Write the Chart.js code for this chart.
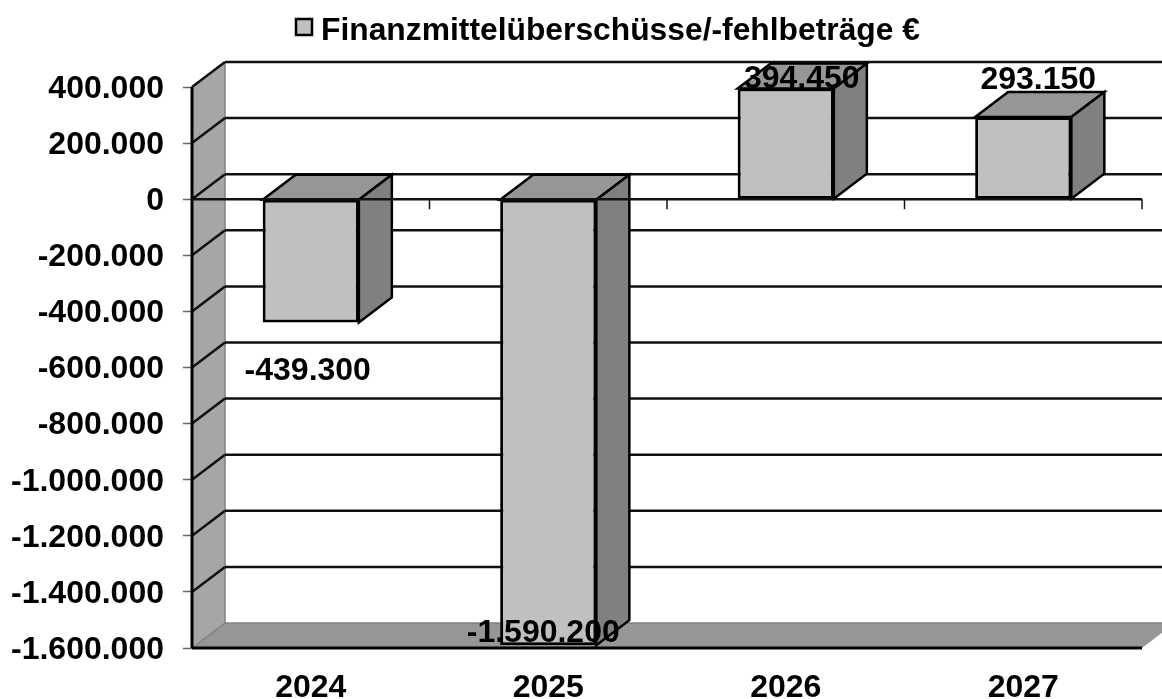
<!DOCTYPE html>
<html>
<head>
<meta charset="utf-8">
<title>Finanzmittelüberschüsse</title>
<script src="https://cdn.jsdelivr.net/npm/chart.js@4"></script>
<style>
  body { margin: 0; background: #fff; }
  canvas { display: block; }
</style>
</head>
<body>
<canvas id="myChart" width="1162" height="699"></canvas>
<script>
const years = ['2024', '2025', '2026', '2027'];
const values = [-439300, -1590200, 394450, 293150];
const seriesName = 'Finanzmittelüberschüsse/-fehlbeträge €';
const yTicks = [400000, 200000, 0, -200000, -400000, -600000, -800000, -1000000, -1200000, -1400000, -1600000];

const FONT = 'bold 32px "Liberation Sans", Arial, sans-serif';
const DX = 33, DY = 25; // 3d depth
const labelShift = [[-3, 49], [-5, -12], [16, -9], [15, -37]]; // where excel put the value labels

function fmt(v) {
  return v.toLocaleString('de-DE');
}

function poly(ctx, pts, fill, stroke, lw) {
  ctx.beginPath();
  pts.forEach((p, i) => i ? ctx.lineTo(p[0], p[1]) : ctx.moveTo(p[0], p[1]));
  ctx.closePath();
  if (fill) { ctx.fillStyle = fill; ctx.fill(); }
  if (stroke) { ctx.strokeStyle = stroke; ctx.lineWidth = lw; ctx.stroke(); }
}

function line(ctx, x1, y1, x2, y2, color, lw) {
  ctx.beginPath();
  ctx.moveTo(x1, y1);
  ctx.lineTo(x2, y2);
  ctx.strokeStyle = color;
  ctx.lineWidth = lw;
  ctx.stroke();
}

const box3d = {
  id: 'box3d',
  beforeDatasetsDraw(chart) {
    const ctx = chart.ctx, a = chart.chartArea, y = chart.scales.y;
    const top = y.getPixelForValue(yTicks[0]);
    const bottom = y.getPixelForValue(yTicks[yTicks.length - 1]);
    ctx.save();
    // side wall and floor
    poly(ctx, [[a.left, top], [a.left + DX, top - DY], [a.left + DX, bottom - DY], [a.left, bottom]], '#a6a6a6');
    poly(ctx, [[a.left, bottom], [a.left + DX, bottom - DY], [a.right + DX, bottom - DY], [a.right, bottom]], '#969696');
    line(ctx, a.left + DX, top - DY, a.left + DX, bottom - DY, '#808080', 1.5);
    line(ctx, a.left + DX, bottom - DY, a.right + DX, bottom - DY, '#808080', 1.5);
    line(ctx, a.left, bottom, a.left + DX, bottom - DY, '#808080', 1.5);
    // gridlines, all but the floor
    yTicks.slice(0, -1).forEach(t => {
      const p = y.getPixelForValue(t);
      line(ctx, a.left, p, a.left + DX, p - DY, '#111', 2.5);
      line(ctx, a.left + DX, p - DY, chart.width, p - DY, '#111', 2.5);
    });
    // bar sides
    chart.getDatasetMeta(0).data.forEach(b => {
      const l = b.x - b.width / 2, r = b.x + b.width / 2;
      const t = Math.min(b.y, b.base), u = Math.max(b.y, b.base);
      poly(ctx, [[l, t], [l + DX, t - DY], [r + DX, t - DY], [r, t]], '#969696', '#000', 2.5);
      poly(ctx, [[r, t], [r + DX, t - DY], [r + DX, u - DY], [r, u]], '#808080', '#000', 2.5);
    });
    ctx.restore();
  },
  afterDatasetsDraw(chart) {
    const ctx = chart.ctx, a = chart.chartArea, x = chart.scales.x, y = chart.scales.y;
    const zero = y.getPixelForValue(0);
    ctx.save();
    // axis lines
    line(ctx, a.left, y.getPixelForValue(yTicks[0]), a.left, a.bottom, '#000', 3);
    line(ctx, a.left, a.bottom, a.right, a.bottom, '#000', 3);
    line(ctx, a.left, zero, a.right, zero, '#111', 2.5);
    years.forEach((yr, i) => {
      const edge = a.left + (a.right - a.left) * (i + 1) / years.length;
      line(ctx, edge, zero, edge, zero + 10, '#111', 1.5);
    });
    ctx.font = FONT;
    ctx.fillStyle = '#000';
    ctx.textBaseline = 'middle';
    // y labels, 2px under their ticks like the original
    ctx.textAlign = 'right';
    yTicks.forEach(t => ctx.fillText(fmt(t), a.left - 28, y.getPixelForValue(t) + 2));
    // value labels
    ctx.textAlign = 'center';
    chart.getDatasetMeta(0).data.forEach((b, i) => {
      ctx.fillText(fmt(values[i]), x.getPixelForValue(i) + labelShift[i][0], b.y + labelShift[i][1]);
    });
    // legend
    ctx.fillStyle = '#c0c0c0';
    ctx.strokeStyle = '#000';
    ctx.lineWidth = 2.5;
    ctx.fillRect(296, 19, 16, 16);
    ctx.strokeRect(296, 19, 16, 16);
    ctx.fillStyle = '#000';
    ctx.textAlign = 'left';
    ctx.font = 'bold 31.8px "Liberation Sans", Arial, sans-serif';
    ctx.fillText(seriesName, 321, 31);
    ctx.restore();
  }
};

new Chart(document.getElementById('myChart').getContext('2d'), {
  type: 'bar',
  data: {
    labels: years,
    datasets: [{
      label: seriesName,
      data: values,
      backgroundColor: '#c0c0c0',
      borderColor: '#000',
      borderWidth: 3,
      borderSkipped: false,
      categoryPercentage: 1,
      barPercentage: 0.405
    }]
  },
  options: {
    responsive: false,
    animation: false,
    layout: { padding: { top: 87, right: 20 } },
    plugins: { legend: { display: false }, tooltip: { enabled: false } },
    scales: {
      x: {
        afterFit(axis) { axis.height = 51; },
        border: { display: false },
        grid: { display: false },
        ticks: { color: '#000', font: { family: '"Liberation Sans"', size: 32, weight: 'bold' }, padding: 13, maxRotation: 0 }
      },
      y: {
        min: yTicks[yTicks.length - 1],
        max: yTicks[0],
        afterFit(axis) { axis.width = 192; },
        afterBuildTicks(axis) { axis.ticks = yTicks.map(v => ({ value: v })); },
        border: { display: false },
        grid: { drawOnChartArea: false, drawTicks: true, tickLength: 9, tickColor: '#666', tickWidth: 1.5 },
        ticks: { display: false }
      }
    }
  },
  plugins: [box3d]
});
</script>
</body>
</html>
